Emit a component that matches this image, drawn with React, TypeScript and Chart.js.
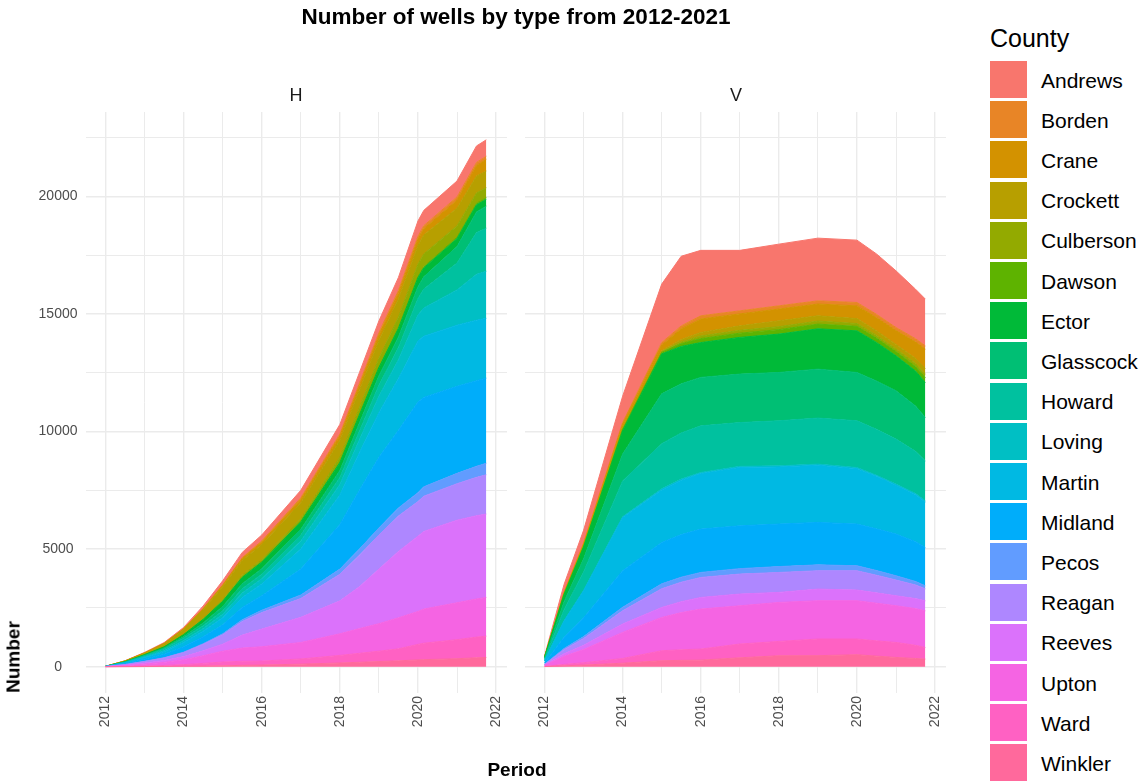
import React, { useEffect, useRef } from "react";
import { Chart, registerables } from "chart.js";

Chart.register(...registerables);

const FONT = "'Liberation Sans', Arial, Helvetica, sans-serif";
Chart.defaults.font.family = FONT;

// Legend order (top of the stack first)
const counties = [
  "Andrews", "Borden", "Crane", "Crockett", "Culberson", "Dawson", "Ector", "Glasscock", "Howard",
  "Loving", "Martin", "Midland", "Pecos", "Reagan", "Reeves", "Upton", "Ward", "Winkler",
];
const countyColors = [
  "#F8766D", "#E88526", "#D39200", "#B79F00", "#93AA00", "#5EB300", "#00BA38", "#00BF74", "#00C19F",
  "#00BFC4", "#00B9E3", "#00ADFA", "#619CFF", "#AE87FF", "#DB72FB", "#F564E3", "#FF61C3", "#FF699C",
];

// grid positions (major + minor) and the labelled ticks
const xGridYears = [2012, 2013, 2014, 2015, 2016, 2017, 2018, 2019, 2020, 2021, 2022];
const xTickLabels = ["2012", "2014", "2016", "2018", "2020", "2022"];
const yGridValues = [0, 2500, 5000, 7500, 10000, 12500, 15000, 17500, 20000, 22500];
const yTickLabels = ["0", "5000", "10000", "15000", "20000"];

// ---- Panel H (horizontal wells) ----
const periodsH = [2012, 2012.5, 2013, 2013.5, 2014, 2014.5, 2015, 2015.5, 2016, 2017, 2018, 2018.5, 2019, 2019.5, 2020, 2020.15, 2021, 2021.5, 2021.75];
const hAndrews = [1, 8, 20, 32, 50, 107, 170, 221, 250, 320, 400, 450, 500, 550, 650, 650, 680, 700, 700];
const hBorden = [0, 2, 4, 6, 10, 17, 25, 39, 50, 70, 90, 100, 110, 120, 130, 130, 130, 130, 130];
const hCrane = [0, 3, 8, 15, 25, 41, 60, 84, 100, 140, 180, 200, 220, 240, 260, 270, 350, 450, 500];
const hCrockett = [2, 25, 60, 117, 200, 364, 550, 630, 650, 680, 720, 740, 760, 780, 800, 800, 750, 720, 710];
const hCulberson = [0, 2, 5, 11, 20, 39, 60, 79, 90, 110, 200, 270, 350, 430, 520, 540, 480, 440, 420];
const hDawson = [0, 0, 1, 2, 3, 6, 10, 13, 15, 25, 35, 40, 45, 50, 55, 55, 60, 65, 70];
const hEctor = [1, 10, 25, 47, 80, 146, 220, 263, 280, 310, 330, 340, 350, 360, 380, 380, 340, 300, 290];
const hGlasscock = [1, 10, 25, 38, 60, 116, 180, 215, 230, 250, 300, 350, 400, 450, 500, 520, 700, 880, 940];
const hHoward = [1, 15, 37, 63, 102, 122, 150, 181, 195, 245, 295, 360, 465, 520, 705, 805, 1140, 1775, 1830];
const hLoving = [1, 15, 35, 56, 90, 116, 150, 194, 220, 350, 450, 550, 700, 800, 1100, 1200, 1500, 1950, 2000];
const hMartin = [2, 30, 70, 113, 180, 233, 300, 420, 500, 850, 1250, 1600, 1900, 2200, 2600, 2600, 2600, 2570, 2545];
const hMidland = [2, 40, 90, 144, 230, 296, 380, 525, 620, 1100, 1900, 2500, 3000, 3300, 3850, 3800, 3700, 3640, 3615];
const hPecos = [0, 2, 5, 9, 15, 26, 40, 74, 100, 150, 220, 260, 300, 340, 380, 400, 440, 470, 490];
const hReagan = [3, 28, 65, 108, 175, 279, 400, 578, 700, 800, 1130, 1340, 1450, 1510, 1470, 1500, 1550, 1630, 1670];
const hReeves = [2, 20, 50, 81, 130, 209, 300, 551, 750, 1070, 1400, 1780, 2320, 2820, 3200, 3300, 3510, 3540, 3545];
const hUpton = [3, 33, 80, 130, 210, 325, 460, 562, 610, 700, 920, 1050, 1170, 1320, 1400, 1450, 1570, 1620, 1645];
const hWard = [1, 9, 22, 41, 70, 112, 160, 173, 170, 220, 320, 380, 440, 510, 660, 700, 810, 880, 905];
const hWinkler = [0, 3, 8, 13, 20, 29, 40, 58, 70, 110, 160, 190, 220, 250, 290, 300, 340, 380, 395];

// ---- Panel V (vertical wells) ----
const periodsV = [2012, 2012.5, 2013, 2014, 2015, 2015.5, 2016, 2017, 2018, 2019, 2020, 2020.5, 2021, 2021.5, 2021.75];
const vAndrews = [37, 330, 540, 1120, 2485, 2963, 2782, 2570, 2623, 2665, 2651, 2568, 2410, 2107, 1990];
const vBorden = [3, 20, 35, 70, 100, 120, 138, 130, 137, 137, 144, 137, 130, 133, 135];
const vCrane = [6, 48, 80, 160, 250, 460, 570, 510, 500, 500, 540, 560, 590, 700, 820];
const vCrockett = [2, 12, 20, 40, 40, 100, 150, 190, 250, 223, 210, 200, 193, 220, 250];
const vCulberson = [1, 10, 15, 30, 30, 70, 110, 120, 125, 130, 120, 115, 110, 130, 150];
const vDawson = [2, 15, 25, 50, 60, 120, 170, 180, 190, 200, 190, 185, 180, 190, 200];
const vEctor = [40, 300, 500, 990, 1700, 1590, 1480, 1560, 1632, 1715, 1772, 1640, 1487, 1485, 1485];
const vGlasscock = [45, 340, 560, 1140, 2120, 2090, 2060, 2060, 2053, 2080, 2053, 2053, 2053, 1930, 1845];
const vHoward = [60, 470, 780, 1525, 1915, 1960, 1980, 1860, 1912, 1955, 1985, 1950, 1912, 1790, 1700];
const vLoving = [1, 10, 15, 30, 50, 50, 50, 50, 50, 50, 50, 50, 50, 50, 50];
const vMartin = [90, 690, 1150, 2265, 2232, 2310, 2360, 2480, 2428, 2430, 2355, 2230, 2075, 2000, 1935];
const vMidland = [60, 480, 800, 1550, 1758, 1810, 1842, 1820, 1807, 1805, 1772, 1772, 1773, 1690, 1630];
const vPecos = [6, 50, 80, 150, 210, 212, 213, 230, 250, 250, 213, 200, 182, 150, 125];
const vReagan = [22, 175, 290, 565, 795, 830, 850, 850, 848, 780, 820, 750, 668, 580, 510];
const vReeves = [15, 110, 180, 355, 425, 465, 495, 500, 427, 495, 455, 440, 425, 425, 425];
const vUpton = [45, 340, 560, 1110, 1415, 1580, 1700, 1625, 1658, 1628, 1628, 1600, 1560, 1560, 1560];
const vWard = [10, 60, 100, 200, 425, 450, 470, 585, 608, 707, 667, 650, 637, 560, 493];
const vWinkler = [5, 40, 70, 150, 255, 270, 280, 380, 467, 470, 510, 450, 395, 350, 327];

// in legend order
const seriesH = [hAndrews, hBorden, hCrane, hCrockett, hCulberson, hDawson, hEctor, hGlasscock, hHoward,
  hLoving, hMartin, hMidland, hPecos, hReagan, hReeves, hUpton, hWard, hWinkler];
const seriesV = [vAndrews, vBorden, vCrane, vCrockett, vCulberson, vDawson, vEctor, vGlasscock, vHoward,
  vLoving, vMartin, vMidland, vPecos, vReagan, vReeves, vUpton, vWard, vWinkler];

const X_MIN = 2011.5;
const X_MAX = 2022.28;
const Y_MIN = -1117;
const Y_MAX = 23582;
const CANVAS_H = 781;
const AREA_TOP = 112;
const AREA_BOTTOM = 693;
const TICK_COLOR = "#4D4D4D";

type PanelProps = {
  left: number;
  width: number;
  padLeft: number;
  padRight: number;
  yWidth: number;
  showY: boolean;
  periods: number[];
  series: number[][];
};

function Panel({ left, width, padLeft, padRight, yWidth, showY, periods, series }: PanelProps) {
  const ref = useRef<HTMLCanvasElement | null>(null);
  useEffect(() => {
    if (!ref.current) return;
    // stack from bottom (Winkler) to top (Andrews)
    const datasets: any[] = [];
    for (let k = series.length - 1; k >= 0; k--) {
      const vals = series[k];
      const isFirst = datasets.length === 0;
      datasets.push({
        label: counties[k],
        data: periods.map((p, i) => ({ x: p, y: vals[i] })),
        backgroundColor: countyColors[k],
        borderColor: countyColors[k],
        borderWidth: 1,
        pointRadius: 0,
        tension: 0,
        fill: isFirst ? "origin" : "-1",
      });
    }
    const gridColor = "#EBEBEB";
    const chart = new Chart(ref.current, {
      type: "line",
      data: { datasets },
      options: {
        animation: false,
        responsive: false,
        events: [],
        layout: { padding: { left: padLeft, right: padRight, top: AREA_TOP, bottom: 0 } },
        plugins: {
          legend: { display: false },
          tooltip: { enabled: false },
          title: { display: false },
        },
        scales: {
          x: {
            type: "linear",
            min: X_MIN,
            max: X_MAX,
            border: { display: false },
            afterBuildTicks: (s: any) => {
              s.ticks = xGridYears.map((v) => ({ value: v }));
            },
            grid: {
              color: gridColor,
              drawTicks: false,
              lineWidth: (c: any) => (c.tick && Math.round(c.tick.value) % 2 !== 0 ? 1.0 : 1.4),
            },
            ticks: {
              autoSkip: false,
              minRotation: 90,
              maxRotation: 90,
              padding: 3,
              color: TICK_COLOR,
              font: { size: 14, family: FONT },
              callback: (v: any) => {
                const s = String(Math.round(Number(v)));
                return xTickLabels.includes(s) ? s : "";
              },
            },
            afterFit: (s: any) => {
              s.height = CANVAS_H - AREA_BOTTOM;
            },
          },
          y: {
            type: "linear",
            stacked: true,
            min: Y_MIN,
            max: Y_MAX,
            border: { display: false },
            afterBuildTicks: (s: any) => {
              s.ticks = yGridValues.map((v) => ({ value: v }));
            },
            grid: {
              color: gridColor,
              drawTicks: false,
              lineWidth: (c: any) => (c.tick && Math.round(c.tick.value) % 5000 !== 0 ? 1.0 : 1.4),
            },
            ticks: {
              display: showY,
              autoSkip: false,
              crossAlign: "center",
              padding: 8.5,
              color: TICK_COLOR,
              font: { size: 14, family: FONT },
              callback: (v: any) => {
                const s = String(Math.round(Number(v)));
                return yTickLabels.includes(s) ? s : "";
              },
            },
            afterFit: (s: any) => {
              s.width = yWidth;
            },
          },
        },
      },
    } as any);
    return () => chart.destroy();
  }, []);
  return (
    <canvas
      ref={ref}
      width={width}
      height={CANVAS_H}
      style={{ position: "absolute", left, top: 0, width, height: CANVAS_H }}
    />
  );
}

export default function App() {
  const text: React.CSSProperties = { position: "absolute", fontFamily: FONT, whiteSpace: "nowrap", lineHeight: 1 };
  return (
    <div style={{ position: "absolute", left: 0, top: 0, width: 1146, height: 781, overflow: "hidden", background: "#fff" }}>
      <Panel left={0} width={517} padLeft={0} padRight={10} yWidth={86} showY={true} periods={periodsH} series={seriesH} />
      <Panel left={505} width={455} padLeft={20} padRight={14} yWidth={0} showY={false} periods={periodsV} series={seriesV} />

      <div style={{ ...text, left: 516, top: 17, transform: "translate(-50%, -50%)", fontWeight: "bold", fontSize: 22.5, color: "#000" }}>
        Number of wells by type from 2012-2021
      </div>
      <div style={{ ...text, left: 296, top: 95, transform: "translate(-50%, -50%)", fontSize: 18, color: "#1A1A1A" }}>H</div>
      <div style={{ ...text, left: 736, top: 95, transform: "translate(-50%, -50%)", fontSize: 18, color: "#1A1A1A" }}>V</div>
      <div style={{ ...text, left: 517, top: 769, transform: "translate(-50%, -50%)", fontWeight: "bold", fontSize: 19, color: "#000" }}>
        Period
      </div>
      <div style={{ ...text, left: 13, top: 657, transform: "translate(-50%, -50%) rotate(-90deg)", fontWeight: "bold", fontSize: 19, color: "#000" }}>
        Number
      </div>

      <div style={{ ...text, left: 990, top: 38, transform: "translateY(-50%)", fontSize: 25, color: "#000" }}>County</div>
      {counties.map((c, i) => (
        <React.Fragment key={c}>
          <div style={{ position: "absolute", left: 990, top: 61 + i * 40.2, width: 37, height: 37, background: countyColors[i] }} />
          <div style={{ ...text, left: 1041, top: 61 + i * 40.2 + 18.5, transform: "translateY(-50%)", fontSize: 21, color: "#000" }}>{c}</div>
        </React.Fragment>
      ))}
    </div>
  );
}
